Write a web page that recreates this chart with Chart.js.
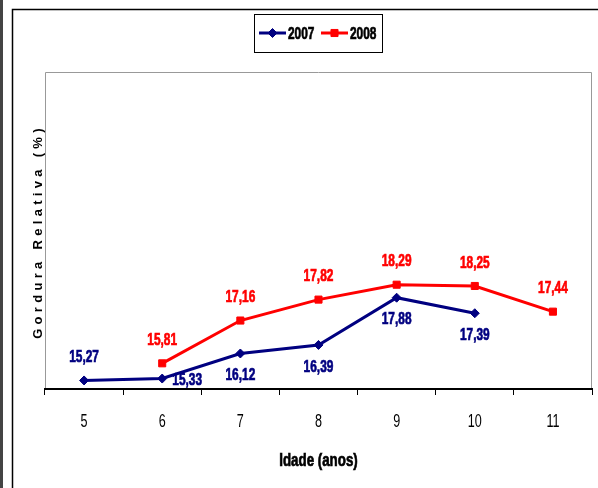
<!DOCTYPE html>
<html>
<head>
<meta charset="utf-8">
<script src="https://cdn.jsdelivr.net/npm/chart.js@4.4.0/dist/chart.umd.min.js"></script>
<style>
  html, body { margin: 0; padding: 0; background: #fff; }
  #wrap { width: 598px; height: 488px; position: relative; }
</style>
</head>
<body>
<div id="wrap"><canvas id="fatChart"></canvas></div>
<script>
// Gordura relativa (%) por idade, 2007 x 2008
const ages = ['5', '6', '7', '8', '9', '10', '11'];
const fat2007 = [15.27, 15.33, 16.12, 16.39, 17.88, 17.39, null];
const fat2008 = [null, 15.81, 17.16, 17.82, 18.29, 18.25, 17.44];
const seriesNames = ['2007', '2008'];
const yMin = 15;
const yMax = 25;

// where each value label sits relative to its point
const labelPos2007 = ['above', 'right', 'below', 'below', 'below', 'below', null];
const labelPos2008 = [null, 'above', 'above', 'above', 'above', 'above', 'above'];

const FONT = "'Liberation Sans', Arial, sans-serif";

const fmt = v => v.toFixed(2).replace('.', ',');

// no narrow font installed, so squeeze text horizontally
// heavy = also stroke the glyphs a little to get the fat look of the original
function narrowText(ctx, text, x, y, sx, heavy) {
  ctx.save();
  ctx.translate(x, y);
  ctx.scale(sx, 1);
  ctx.fillText(text, 0, 0);
  if (heavy) {
    ctx.strokeStyle = ctx.fillStyle;
    ctx.lineWidth = 0.7;
    ctx.strokeText(text, 0, 0);
  }
  ctx.restore();
}

const framePlugin = {
  id: 'frame',
  beforeDraw(chart) {
    const ctx = chart.ctx;
    ctx.save();
    // page edges
    ctx.fillStyle = '#444';
    ctx.fillRect(0, 0, 3, 488);
    ctx.strokeStyle = '#000';
    ctx.lineWidth = 1.5;
    ctx.beginPath();
    ctx.moveTo(12.5, 488);
    ctx.lineTo(12.5, 9.5);
    ctx.lineTo(598, 9.5);
    ctx.stroke();
    // plot area box
    const a = chart.chartArea;
    ctx.strokeStyle = '#999';
    ctx.lineWidth = 1;
    ctx.beginPath();
    ctx.moveTo(a.left + 0.5, a.bottom);
    ctx.lineTo(a.left + 0.5, a.top + 0.5);
    ctx.lineTo(a.right - 0.5, a.top + 0.5);
    ctx.lineTo(a.right - 0.5, a.bottom);
    ctx.stroke();
    // y title, letter spaced
    ctx.translate(38, (a.top + a.bottom) / 2 + 3);
    ctx.rotate(-Math.PI / 2);
    ctx.font = 'bold 13px ' + FONT;
    ctx.fillStyle = '#000';
    ctx.textAlign = 'center';
    ctx.textBaseline = 'middle';
    ctx.letterSpacing = '4.3px';
    ctx.fillText('Gordura Relativa (%)', 2, 0);
    ctx.restore();
  },
  afterDraw(chart) {
    // x tick labels and x title
    const ctx = chart.ctx;
    const xs = chart.scales.x;
    const a = chart.chartArea;
    ctx.save();
    ctx.fillStyle = '#000';
    ctx.textAlign = 'center';
    ctx.textBaseline = 'middle';
    ctx.font = '18px ' + FONT;
    ages.forEach((lab, i) => {
      narrowText(ctx, lab, xs.getPixelForValue(i), a.bottom + 33, 0.7, false);
    });
    ctx.font = 'bold 18px ' + FONT;
    narrowText(ctx, 'Idade (anos)', (a.left + a.right) / 2, a.bottom + 72, 0.74, true);
    ctx.restore();
  }
};

const labelPlugin = {
  id: 'valueLabels',
  afterDatasetsDraw(chart) {
    const ctx = chart.ctx;
    const positions = [labelPos2007, labelPos2008];
    ctx.save();
    ctx.font = 'bold 17px ' + FONT;
    ctx.textAlign = 'center';
    ctx.textBaseline = 'middle';
    chart.data.datasets.forEach((ds, i) => {
      const meta = chart.getDatasetMeta(i);
      ctx.fillStyle = ds.borderColor;
      ds.data.forEach((v, j) => {
        if (v === null) return;
        const pt = meta.data[j];
        const pos = positions[i][j];
        let x = pt.x, y = pt.y;
        if (pos === 'above') y -= 23;
        else if (pos === 'below') y += 22;
        else if (pos === 'right') { x += 25; y += 2; }
        narrowText(ctx, fmt(v), x, y, 0.7, true);
      });
    });
    ctx.restore();
  }
};

const legendPlugin = {
  id: 'boxLegend',
  afterDraw(chart) {
    const ctx = chart.ctx;
    ctx.save();
    ctx.strokeStyle = '#000';
    ctx.lineWidth = 1;
    ctx.strokeRect(254.5, 14.5, 128, 38);
    const items = [
      { x: 259, ds: chart.data.datasets[0] },
      { x: 321, ds: chart.data.datasets[1] }
    ];
    ctx.font = 'bold 17px ' + FONT;
    ctx.textBaseline = 'middle';
    items.forEach(it => {
      const y = 33;
      ctx.strokeStyle = it.ds.borderColor;
      ctx.lineWidth = 3;
      ctx.beginPath();
      ctx.moveTo(it.x, y);
      ctx.lineTo(it.x + 27, y);
      ctx.stroke();
      ctx.fillStyle = it.ds.borderColor;
      ctx.lineWidth = 1;
      Chart.helpers.drawPoint(ctx, {
        pointStyle: it.ds.pointStyle,
        radius: it.ds.pointRadius,
        borderWidth: 1
      }, it.x + 13.5, y);
      ctx.fillStyle = '#000';
      ctx.textAlign = 'left';
      narrowText(ctx, it.ds.label, it.x + 29, y + 1, 0.7, true);
    });
    ctx.restore();
  }
};

new Chart(document.getElementById('fatChart'), {
  type: 'line',
  data: {
    labels: ages,
    datasets: [
      {
        label: seriesNames[0],
        data: fat2007,
        borderColor: '#000080',
        backgroundColor: '#000080',
        borderWidth: 3,
        pointStyle: 'rectRot',
        pointRadius: 4.5,
        pointBorderWidth: 1,
        tension: 0
      },
      {
        label: seriesNames[1],
        data: fat2008,
        borderColor: '#FF0000',
        backgroundColor: '#FF0000',
        borderWidth: 3,
        pointStyle: 'rect',
        pointRadius: 5,
        pointBorderWidth: 1,
        tension: 0
      }
    ]
  },
  options: {
    responsive: true,
    maintainAspectRatio: false,
    animation: false,
    layout: { padding: { left: 45, right: 6, top: 72, bottom: 93 } },
    plugins: {
      legend: { display: false },
      tooltip: { enabled: false }
    },
    scales: {
      x: {
        type: 'category',
        offset: true,
        grid: {
          offset: true,
          drawOnChartArea: false,
          drawTicks: true,
          tickLength: 6,
          color: '#000',
          lineWidth: 1
        },
        border: { color: '#000', width: 2 },
        ticks: { display: false }
      },
      y: {
        display: false,
        min: yMin,
        max: yMax
      }
    }
  },
  plugins: [framePlugin, labelPlugin, legendPlugin]
});
</script>
</body>
</html>
